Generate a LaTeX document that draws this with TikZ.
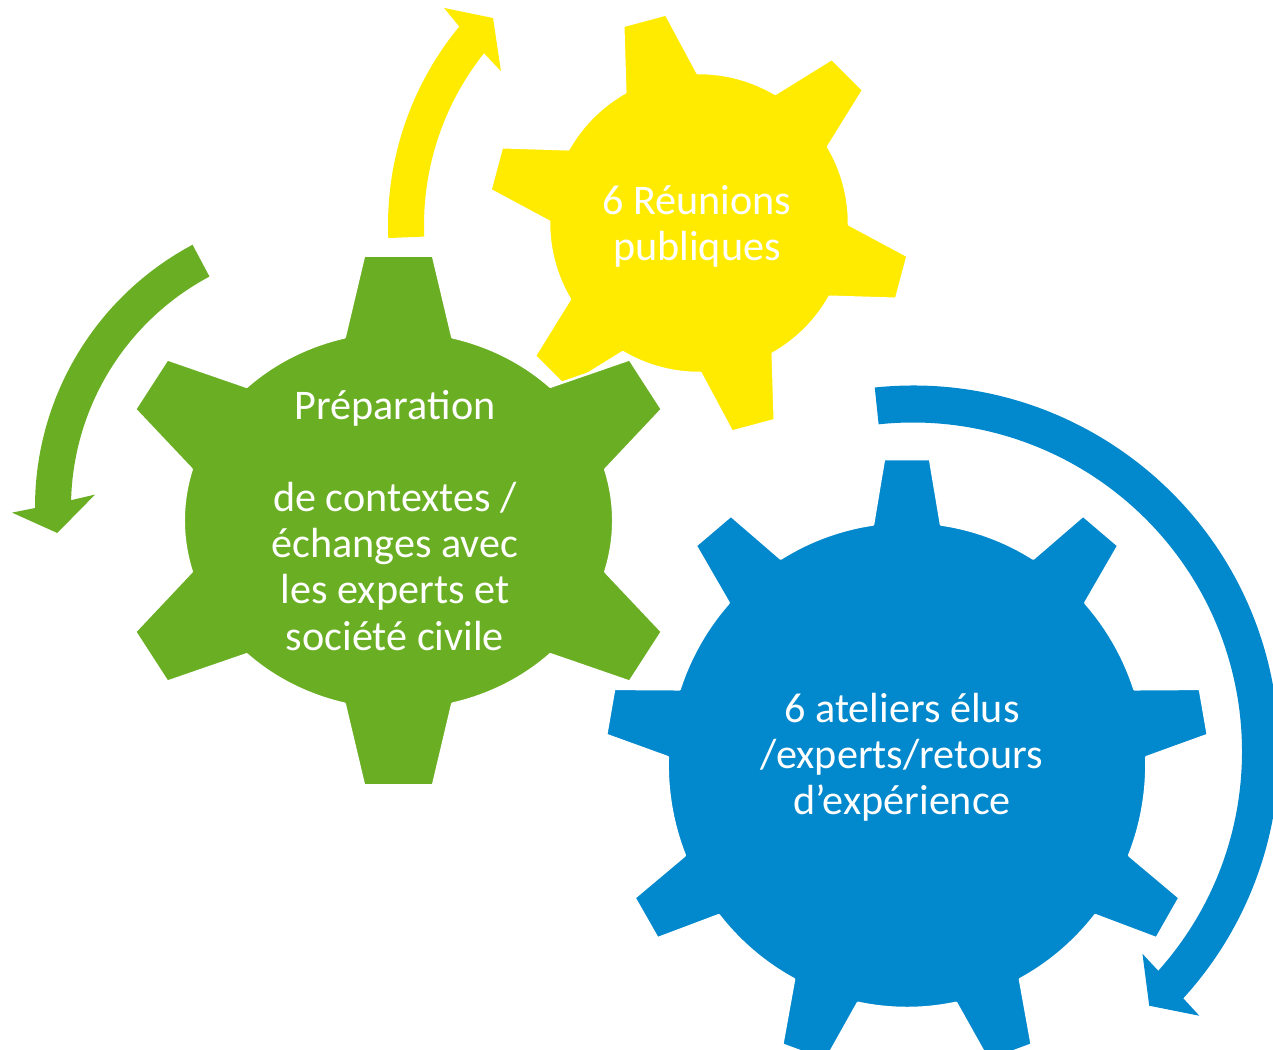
\documentclass[tikz,border=0pt]{standalone}
\usepackage{fontspec}
\setmainfont{Carlito}
\definecolor{vertroue}{HTML}{6AAF23}
\definecolor{jauneroue}{HTML}{FFEB00}
\definecolor{bleuroue}{HTML}{0288CC}
\begin{document}
\begin{tikzpicture}[x=0.02cm, y=0.02cm, line join=round,
	roue/.style={fill=#1, draw=white, line width=0.05cm},
	fleche/.style={fill=#1},
	ell/.style={x radius=214.5, y radius=189.3},
	etiquette/.style={text=white, align=center, font=\fontsize{24}{26.2}\selectfont}]
	% Cadre de l'image
	\useasboundingbox (0,0) rectangle (1273,-1049);
	\clip (0,0) rectangle (1273,-1049);
	
	% Centres des roues et des fleches
	\coordinate (V) at (398.5,-520.5);
	\coordinate (J) at (699,-223);
	\coordinate (B) at (907,-765);
	\coordinate (FV) at (332,-507);
	\coordinate (FJ) at (700,-225);
	\coordinate (FB) at (913,-751.5);
	
	% Fleches circulaires
	\begin{scope}[shift={(FJ)}]
		\fill[fleche=jauneroue] (182.4:312) arc[start angle=182.4, end angle=140.5, radius=312]
			-- (139.7:335.6) -- (135:292.7) -- (142.3:251.6) -- (141.5:276)
			arc[start angle=141.5, end angle=182.4, radius=276] -- cycle;
	\end{scope}
	\begin{scope}[shift={(FV)}]
		\fill[fleche=vertroue] (118:297) arc[start angle=118, end angle=180.2, radius=297]
			-- (181:320) -- (185.4:276) -- (177:237.3) -- (178.5:261)
			arc[start angle=178.5, end angle=118, radius=261] -- cycle;
	\end{scope}
	\begin{scope}[shift={(FB)}]
		\fill[fleche=bleuroue] (96:366) arc[start angle=96, end angle=-42.4, radius=366]
			-- (-42.7:389.6) -- (-47.1:347) -- (-41.4:305.9) -- (-41.8:329)
			arc[start angle=-41.8, end angle=96, radius=329] -- cycle;
	\end{scope}
	
	% Roue jaune (6 dents)
	\begin{scope}[shift={(J)}]
		\path[roue=jauneroue] ({105-14.44}:150)
			\foreach \a in {105,165,225,285,345,405} {
				-- ({\a-6.03}:211.2) -- ({\a+6.03}:211.2) -- ({\a+14.44}:150)
				arc[start angle={\a+14.44}, end angle={\a+45.56}, radius=150]
			} -- cycle;
	\end{scope}
	
	% Roue verte (6 dents, corps elliptique)
	\begin{scope}[shift={(V)}]
		\path[roue=vertroue] (206.8,-51.2) arc[ell, start angle=-15.67, end angle=15.67]
			-- (263.5,111.2) -- (231.2,161.2) -- (151.8,133.8) arc[ell, start angle=44.96, end angle=75.46]
			-- (34.5,264.8) -- (-34.5,264.8) -- (-53.85,183.2) arc[ell, start angle=104.54, end angle=135.04]
			-- (-231.2,161.2) -- (-263.5,111.2) -- (-206.8,51.2) arc[ell, start angle=164.33, end angle=195.67]
			-- (-263.5,-111.2) -- (-231.2,-161.2) -- (-151.8,-133.8) arc[ell, start angle=224.96, end angle=255.46]
			-- (-34.5,-264.8) -- (34.5,-264.8) -- (53.85,-183.2) arc[ell, start angle=284.54, end angle=315.04]
			-- (231.2,-161.2) -- (263.5,-111.2) -- cycle;
	\end{scope}
	
	% Roue bleue (9 dents)
	\begin{scope}[shift={(B)}, xscale=0.985]
		\path[roue=bleuroue] ({10-8.16}:243)
			\foreach \a in {10,50,...,330} {
				-- ({\a-4.37}:306.9) -- ({\a+4.37}:306.9) -- ({\a+8.16}:243)
				arc[start angle={\a+8.16}, end angle={\a+31.84}, radius=243]
			} -- cycle;
	\end{scope}
	
	% Textes
	\node[etiquette] (reunions) at (697,-226) {6 Réunions\\publiques};
	\node[etiquette] (preparation) at (395,-520.5) {Préparation\\[26.2pt]de contextes /\\échanges avec\\les experts et\\société civile};
	\node[etiquette] (ateliers) at (902,-757) {6 ateliers élus\\/experts/retours\\d’expérience};
\end{tikzpicture}
\end{document}
